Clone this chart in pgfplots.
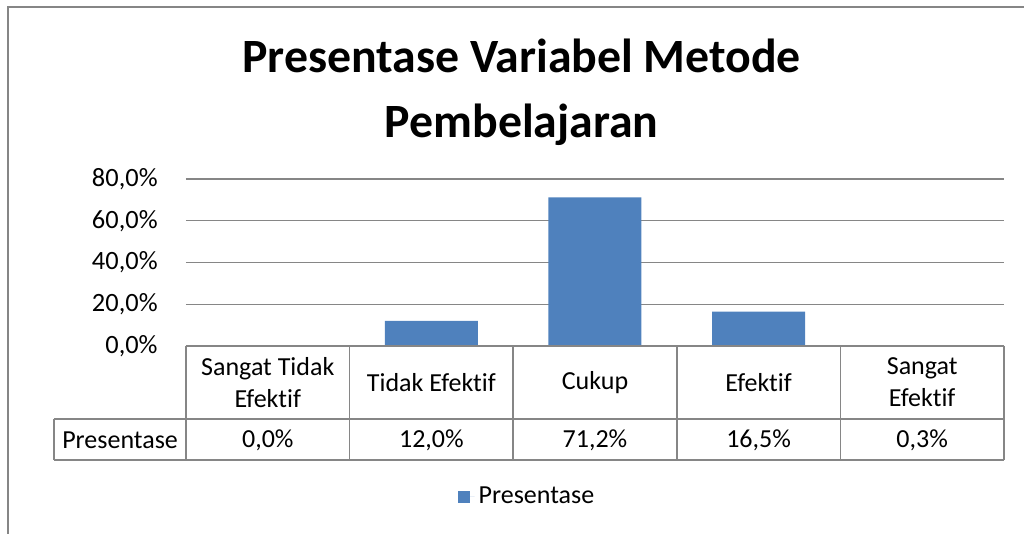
\documentclass[border=0pt]{standalone}
\usepackage{fontspec}
\setmainfont{Carlito}[Ligatures=NoCommon]
\usepackage{pgfplots}
\pgfplotsset{compat=1.18}
\definecolor{barBlue}{HTML}{4F81BD}
\definecolor{lineGray}{HTML}{868686}

\begin{document}
\begin{tikzpicture}
\useasboundingbox (0,0) rectangle (512pt,267pt);
% chart area frame (only top and left edges fall inside the picture)
\draw[lineGray, line width=0.9pt] (4pt,-20pt) |- (540pt,263.4pt);
\node[font=\fontsize{23.9}{28}\selectfont\bfseries, anchor=base, inner sep=0pt]
  at (260.8pt,230.5pt) {Presentase Variabel Metode};
\node[font=\fontsize{23.9}{28}\selectfont\bfseries, anchor=base, inner sep=0pt]
  at (260.8pt,198pt) {Pembelajaran};

\begin{axis}[
  at={(93pt,94pt)}, anchor=south west,
  scale only axis, width=409pt, height=83.5pt,
  xmin=-0.5, xmax=4.5, ymin=0, ymax=80,
  clip=false,
  axis line style={draw=none},
  major tick length=0pt,
  ytick={0,20,40,60,80},
  ymajorgrids,
  grid style={lineGray, line width=0.6pt},
  yticklabel={\pgfmathprintnumber[fixed,fixed zerofill,precision=1,use comma]{\tick}\%},
  yticklabel style={anchor=east, inner sep=0pt, xshift=-14pt,
                    font=\fontsize{13.2}{16}\selectfont},
  /pgf/number format/assume math mode=true,
  xtick={0,1,2,3,4},
  xticklabels={{Sangat Tidak\\Efektif},{Tidak Efektif},{Cukup},{Efektif},{Sangat\\Efektif}},
  xticklabel style={align=center, anchor=center, inner sep=0pt, yshift=-18.25pt,
                    font=\fontsize{13}{16}\selectfont},
  legend style={at={(0.418,-0.904)}, anchor=center, draw=none, fill=none,
                font=\fontsize{13}{16}\selectfont, inner sep=0pt},
  legend image code/.code={\fill[barBlue] (0pt,-3pt) rectangle (6pt,3pt);
                           \path (6pt,0pt) -- (8.5pt,0pt);},
]
  \addplot[ybar, bar width=46.5pt, fill=barBlue, draw=none]
    coordinates {(0,0.0) (1,12.0) (2,71.2) (3,16.5) (4,0.3)};
  \addlegendentry{Presentase}

  % value row of the data table
  \addplot[draw=none, forget plot, point meta=explicit,
    nodes near coords={\pgfmathprintnumber[fixed,fixed zerofill,precision=1,use comma]{\pgfplotspointmeta}\%},
    nodes near coords style={anchor=center, inner sep=0pt, yshift=-0.5pt,
                             font=\fontsize{13}{16}\selectfont}]
    coordinates {(0,-44.8) [0.0] (1,-44.8) [12.0] (2,-44.8) [71.2] (3,-44.8) [16.5] (4,-44.8) [0.3]};

  % data table grid
  \draw[lineGray, line width=0.8pt]
    (axis cs:-0.5,0) -- (axis cs:4.5,0)
    (axis cs:-1.307,-34.97) -- (axis cs:4.5,-34.97)
    (axis cs:-1.307,-54.6) -- (axis cs:4.5,-54.6)
    (axis cs:-1.307,-34.97) -- (axis cs:-1.307,-54.6)
    (axis cs:-0.5,0) -- (axis cs:-0.5,-54.6)
    (axis cs:0.5,0) -- (axis cs:0.5,-54.6)
    (axis cs:1.5,0) -- (axis cs:1.5,-54.6)
    (axis cs:2.5,0) -- (axis cs:2.5,-54.6)
    (axis cs:3.5,0) -- (axis cs:3.5,-54.6)
    (axis cs:4.5,0) -- (axis cs:4.5,-54.6);
  \node[font=\fontsize{13}{16}\selectfont, anchor=center, inner sep=0pt]
    at (axis cs:-0.903,-45.3) {Presentase};
\end{axis}
\end{tikzpicture}
\end{document}
